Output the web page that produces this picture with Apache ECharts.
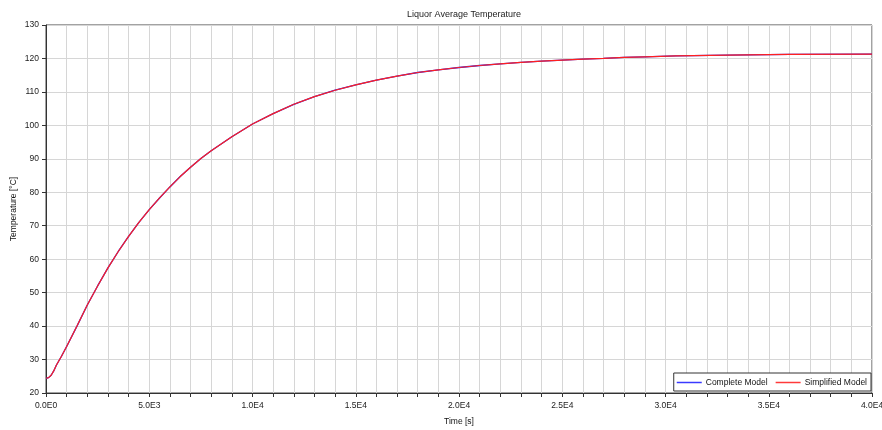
<!DOCTYPE html>
<html>
<head>
<meta charset="utf-8">
<script src="https://cdn.jsdelivr.net/npm/echarts@6/dist/echarts.min.js"></script>
<style>html,body{margin:0;padding:0;background:#fff}#c{width:882px;height:430px}</style>
</head>
<body>
<div id="c"></div>
<script>
const chartTitle = 'Liquor Average Temperature';
const xAxisName = 'Time [s]';
const yAxisName = 'Temperature [°C]';
const seriesNames = ['Complete Model', 'Simplified Model'];
const timeValues = [0, 125, 250, 375, 500, 750, 1000, 1500, 2000, 2500, 3000, 3500, 4000, 4500, 5000, 5500, 6000, 6500, 7000, 7500, 8000, 9000, 10000, 11000, 12000, 13000, 14000, 15000, 16000, 17000, 18000, 19000, 20000, 21000, 22000, 23000, 24000, 25000, 26000, 27000, 28000, 29000, 30500, 33000, 36000, 40000];
const completeModel = [24.4, 24.6, 25.3, 26.6, 28.3, 31.0, 33.9, 40.0, 46.3, 52.0, 57.4, 62.3, 66.8, 71.0, 74.8, 78.3, 81.6, 84.7, 87.5, 90.1, 92.4, 96.6, 100.4, 103.5, 106.3, 108.6, 110.5, 112.1, 113.5, 114.7, 115.8, 116.6, 117.3, 117.9, 118.4, 118.8, 119.2, 119.5, 119.8, 120.0, 120.3, 120.5, 120.8, 121.0, 121.2, 121.3];
const simplifiedModel = [24.4, 24.6, 25.3, 26.6, 28.3, 31.0, 33.9, 40.0, 46.3, 52.0, 57.4, 62.3, 66.8, 71.0, 74.8, 78.3, 81.6, 84.7, 87.5, 90.1, 92.4, 96.6, 100.4, 103.5, 106.3, 108.6, 110.5, 112.1, 113.5, 114.7, 115.8, 116.6, 117.3, 117.9, 118.4, 118.8, 119.2, 119.5, 119.8, 120.0, 120.3, 120.5, 120.8, 121.0, 121.2, 121.3];
const xLabelStep = 5000;

function sci(v) {
  if (v === 0) return '0.0E0';
  const e = Math.floor(Math.log10(Math.abs(v)) + 1e-9);
  const m = v / Math.pow(10, e);
  return m.toFixed(1) + 'E' + e;
}
const pairs = arr => timeValues.map((t, i) => [t, arr[i]]);
const FONT = '"Liberation Sans", Arial, sans-serif';
const chart = echarts.init(document.getElementById('c'));
chart.setOption({
  animation: false,
  backgroundColor: '#fff',
  title: {
    text: chartTitle, left: 459, top: 5, textAlign: 'center',
    textStyle: { fontSize: 9, fontWeight: 'normal', color: '#222', fontFamily: FONT }
  },
  grid: { left: 46, right: 10, top: 25, bottom: 37, containLabel: false, outerBoundsMode: 'none',
    show: true, borderColor: '#444', borderWidth: 1, backgroundColor: 'transparent' },
  legend: {
    right: 11, bottom: 39, orient: 'horizontal',
    backgroundColor: '#fff', borderColor: '#333', borderWidth: 1, borderRadius: 0,
    padding: [5, 4, 4, 3], itemGap: 8, itemWidth: 25, itemHeight: 1.5, icon: 'rect',
    textStyle: { fontSize: 8.5, color: '#111', fontFamily: FONT, padding: [0, 0, 0, -1] },
    data: seriesNames
  },
  xAxis: {
    type: 'value', min: 0, max: 40000, interval: 1000,
    name: xAxisName, nameLocation: 'middle', nameGap: 24,
    nameTextStyle: { fontSize: 8.5, color: '#111', fontFamily: FONT },
    axisLine: { onZero: false, lineStyle: { color: '#333', width: 1 } },
    axisTick: { show: true, length: 4, lineStyle: { color: '#333' } },
    axisLabel: {
      margin: 8, fontSize: 8.5, color: '#222', fontFamily: FONT,
      formatter: v => (v % xLabelStep === 0 ? sci(v) : '')
    },
    splitLine: { show: true, lineStyle: { color: '#d6d6d6', width: 1 } }
  },
  yAxis: {
    type: 'value', min: 20, max: 130, interval: 10,
    name: yAxisName, nameLocation: 'middle', nameGap: 28, nameRotate: 90, nameMoveOverlap: false,
    nameTextStyle: { fontSize: 8.5, color: '#111', fontFamily: FONT },
    axisLine: { show: true, onZero: false, lineStyle: { color: '#333', width: 1 } },
    axisTick: { show: true, length: 4, lineStyle: { color: '#333' } },
    axisLabel: { margin: 7, fontSize: 8.5, color: '#222', fontFamily: FONT },
    splitLine: { show: true, lineStyle: { color: '#d6d6d6', width: 1 } }
  },
  series: [
    { name: seriesNames[0], type: 'line', data: pairs(completeModel), showSymbol: false, symbol: 'none',
      smooth: false,
      itemStyle: { color: '#3a3aff' }, lineStyle: { color: '#2020ee', width: 1.3 } },
    { name: seriesNames[1], type: 'line', data: pairs(simplifiedModel), showSymbol: false, symbol: 'none',
      smooth: false,
      itemStyle: { color: '#ff3a3a' }, lineStyle: { color: '#ff2020', width: 1.2 } }
  ]
});
</script>
</body>
</html>
